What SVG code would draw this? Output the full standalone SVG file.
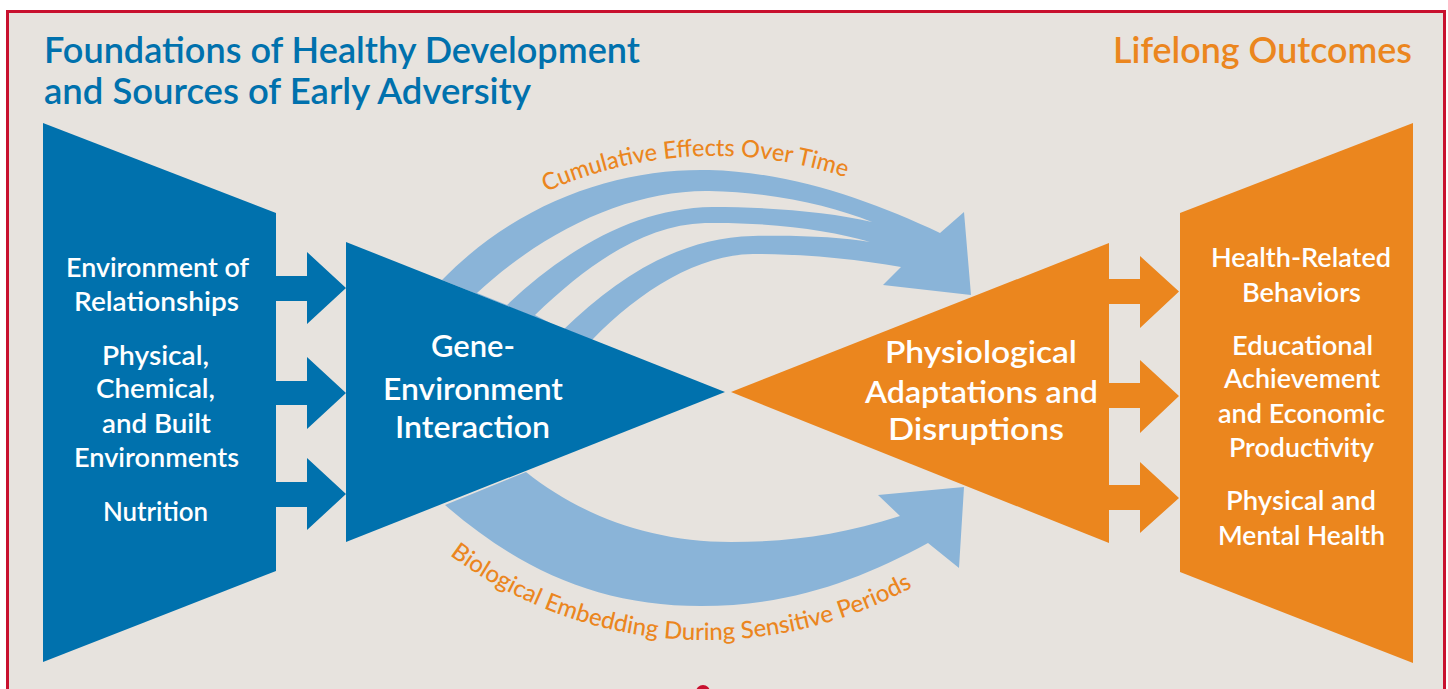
<svg xmlns="http://www.w3.org/2000/svg" width="1448" height="689" viewBox="0 0 1448 689">
  <defs>
    <style>
      .frame { fill: #E7E3DE; stroke: #C8102E; stroke-width: 3; }
      .blue { fill: #0071AD; }
      .orange { fill: #EB861E; }
      .flow { fill: #8AB4D8; }
      .gap { fill: #E7E3DE; }
      .label { font-family: Lato, "Open Sans", sans-serif; font-weight: 600; fill: #FFFFFF; text-anchor: middle; }
      .sm { font-size: 26px; }
      .md { font-size: 31px; }
      .title { font-family: Lato, "Open Sans", sans-serif; font-weight: 600; font-size: 37px; }
      .curve { font-family: Lato, "Open Sans", sans-serif; font-weight: 500; font-size: 24px; fill: #EB861E; }
    </style>
    <path id="arcTop" d="M434,266 A413,413 0 0 1 964.5,240"/>
    <path id="arcBottom" d="M408.3,519.9 A429,429 0 0 0 958.4,558"/>
  </defs>

  <!-- panel -->
  <rect x="0" y="0" width="1448" height="689" fill="#FFFFFF"/>
  <rect class="frame" x="7.5" y="11.5" width="1437" height="700"/>
  <circle cx="703" cy="692" r="7" fill="#C8102E"/>

  <!-- column headings -->
  <g id="headings">
    <text class="title" x="44" y="63" fill="#0071AD" textLength="596" lengthAdjust="spacingAndGlyphs">Foundations of Healthy Development</text>
    <text class="title" x="44" y="104" fill="#0071AD" textLength="487" lengthAdjust="spacingAndGlyphs">and Sources of Early Adversity</text>
    <text class="title" x="1412" y="63" fill="#EB861E" text-anchor="end" textLength="299" lengthAdjust="spacingAndGlyphs">Lifelong Outcomes</text>
  </g>

  <!-- connectors: block arrows and curved flows -->
  <g id="connectors">
    <!-- cumulative effects: three merging bands -->
    <path class="flow" d="M442,280 C520,200 620,168 709,170 C790,172 870,200 940,233 L964,212 L971,295 L883,285 L901,267 C860,260 810,254 753,254 C700,254 640,290 592,340 Z"/>
    <path class="gap" d="M477,293 C545,230 630,190 709,191 C770,192 830,205 872,222 C830,212 770,207 712,207 C640,208 570,245 507,305 Z"/>
    <path class="gap" d="M535,315 C590,262 645,225 705,223 C770,222 830,230 870,242 C840,237 800,235 753,236 C680,238 620,275 563,330 Z"/>
    <!-- biological embedding -->
    <path class="flow" d="M445,505 C520,570 600,606 701,606 C790,606 860,580 928,543 L959,568 L964,487 L878,495 L900,516 C840,535 790,542 731,542 C650,542 580,515 526,472 Z"/>

    <!-- foundations to gene-environment interaction -->
    <path class="blue" d="M274,276 H307 V252 L346,288 L307,324 V301 H274 Z"/>
    <path class="blue" d="M274,381 H307 V357 L346,393 L307,429 V405 H274 Z"/>
    <path class="blue" d="M274,482 H307 V458 L346,494 L307,530 V507 H274 Z"/>

    <!-- adaptations to lifelong outcomes -->
    <path class="orange" d="M1107,279 H1140 V256 L1179,291.5 L1140,328 V304 H1107 Z"/>
    <path class="orange" d="M1107,383 H1140 V360 L1179,396 L1140,433 V408 H1107 Z"/>
    <path class="orange" d="M1107,485 H1140 V462 L1179,498 L1140,533 V510 H1107 Z"/>

    <text class="curve"><textPath href="#arcTop" startOffset="50%" text-anchor="middle" textLength="307" lengthAdjust="spacingAndGlyphs">Cumulative Effects Over Time</textPath></text>
    <text class="curve"><textPath href="#arcBottom" startOffset="50%" text-anchor="middle" textLength="490" lengthAdjust="spacingAndGlyphs">Biological Embedding During Sensitive Periods</textPath></text>
  </g>

  <!-- foundations -->
  <g id="foundations">
    <path class="blue" d="M43,123 L276,213 L276,571 L43,662 Z"/>
    <text class="label sm" x="157.5" y="277" textLength="183" lengthAdjust="spacingAndGlyphs">Environment of</text>
    <text class="label sm" x="156.5" y="311" textLength="165" lengthAdjust="spacingAndGlyphs">Relationships</text>
    <text class="label sm" x="155.5" y="365" textLength="107" lengthAdjust="spacingAndGlyphs">Physical,</text>
    <text class="label sm" x="155.5" y="398" textLength="119" lengthAdjust="spacingAndGlyphs">Chemical,</text>
    <text class="label sm" x="156.5" y="433" textLength="109" lengthAdjust="spacingAndGlyphs">and Built</text>
    <text class="label sm" x="156.5" y="467" textLength="165" lengthAdjust="spacingAndGlyphs">Environments</text>
    <text class="label sm" x="155.5" y="521" textLength="105" lengthAdjust="spacingAndGlyphs">Nutrition</text>
  </g>

  <!-- gene-environment interaction -->
  <g id="gene-environment">
    <path class="blue" d="M346,242 L725,392 L346,542 Z"/>
    <text class="label md" x="473" y="357" textLength="84" lengthAdjust="spacingAndGlyphs">Gene-</text>
    <text class="label md" x="473" y="400" textLength="180" lengthAdjust="spacingAndGlyphs">Environment</text>
    <text class="label md" x="472.5" y="438" textLength="155" lengthAdjust="spacingAndGlyphs">Interaction</text>
  </g>

  <!-- physiological adaptations -->
  <g id="physiological">
    <path class="orange" d="M1109,243 L731,392 L1109,543 Z"/>
    <text class="label md" x="981" y="363" textLength="192" lengthAdjust="spacingAndGlyphs">Physiological</text>
    <text class="label md" x="981.5" y="403" textLength="233" lengthAdjust="spacingAndGlyphs">Adaptations and</text>
    <text class="label md" x="976" y="440" textLength="176" lengthAdjust="spacingAndGlyphs">Disruptions</text>
  </g>

  <!-- lifelong outcomes -->
  <g id="outcomes">
    <path class="orange" d="M1180,213 L1413,123 L1413,663 L1180,572 Z"/>
    <text class="label sm" x="1301" y="267" textLength="180" lengthAdjust="spacingAndGlyphs">Health-Related</text>
    <text class="label sm" x="1301.5" y="302" textLength="119" lengthAdjust="spacingAndGlyphs">Behaviors</text>
    <text class="label sm" x="1302.5" y="355" textLength="141" lengthAdjust="spacingAndGlyphs">Educational</text>
    <text class="label sm" x="1302" y="388" textLength="156" lengthAdjust="spacingAndGlyphs">Achievement</text>
    <text class="label sm" x="1301.5" y="423" textLength="167" lengthAdjust="spacingAndGlyphs">and Economic</text>
    <text class="label sm" x="1301.5" y="457" textLength="145" lengthAdjust="spacingAndGlyphs">Productivity</text>
    <text class="label sm" x="1301" y="510" textLength="150" lengthAdjust="spacingAndGlyphs">Physical and</text>
    <text class="label sm" x="1301.5" y="545" textLength="167" lengthAdjust="spacingAndGlyphs">Mental Health</text>
  </g>
</svg>
